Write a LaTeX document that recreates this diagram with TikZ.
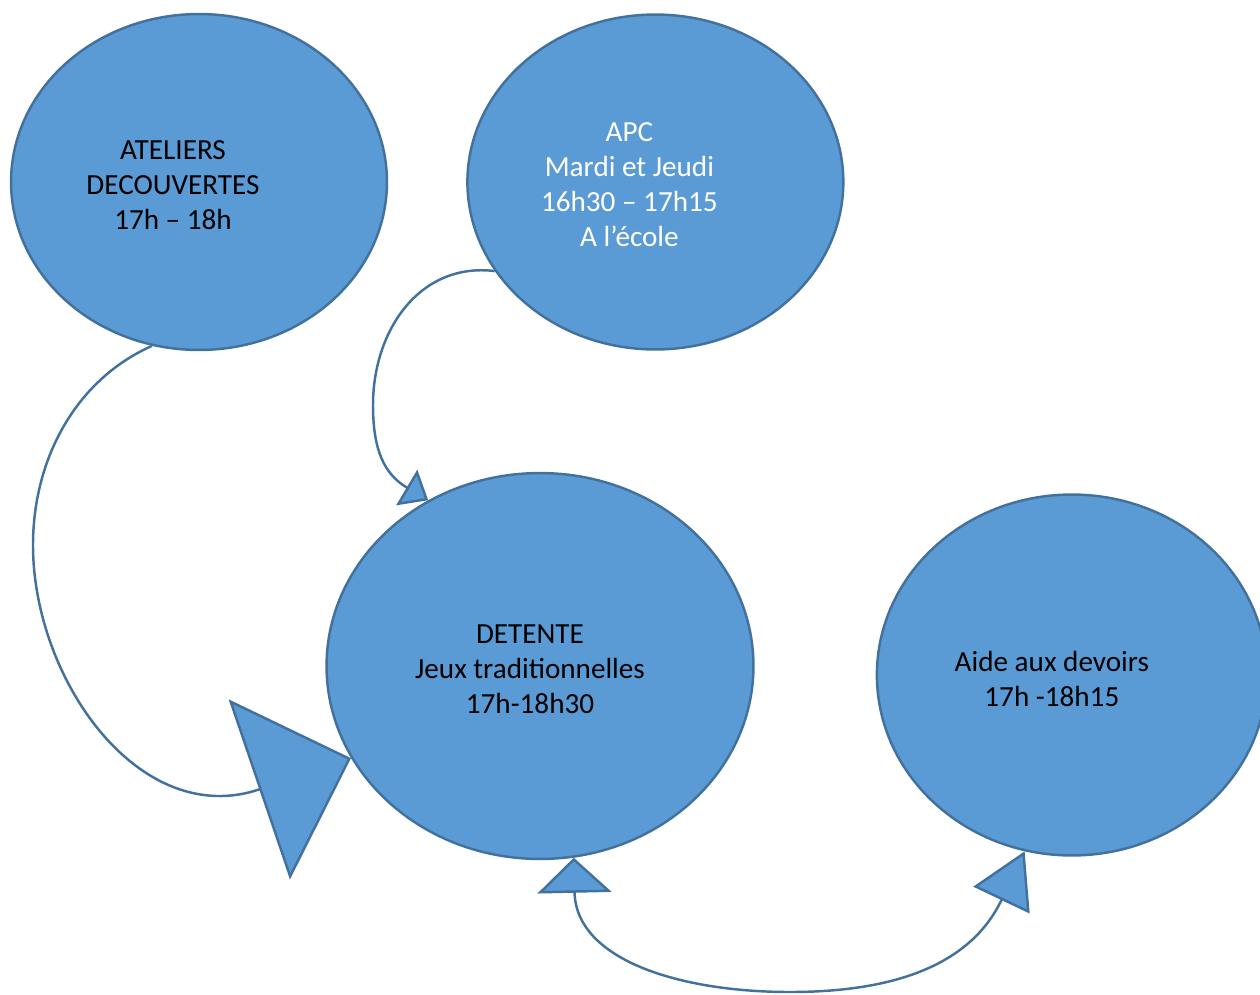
\documentclass[tikz,border=0pt]{standalone}
\usepackage{fontspec}
\setmainfont{Carlito}
\usetikzlibrary{arrows.meta, positioning, calc, shapes.geometric}

\definecolor{bubblefill}{HTML}{5B9BD5}
\definecolor{bubbleline}{HTML}{41719C}

\begin{document}
\begin{tikzpicture}[
    x=0.02cm, y=-0.02cm,
    bubble/.style={ellipse, draw=bubbleline, fill=bubblefill, line width=1.4pt, inner sep=0pt},
    txt/.style={align=center, font=\fontsize{16.6pt}{19.9pt}\selectfont},
    link/.style={draw=bubbleline, line width=1.4pt},
    bigtip/.style={-{Triangle[length=1.94cm, width=3.8cm, fill=bubblefill]}},
    smalltip/.style={-{Triangle[length=0.5cm, width=0.82cm, fill=bubblefill]}},
    bothtips/.style={{Triangle[length=0.7cm, width=1.48cm, fill=bubblefill]}-{Triangle[length=1.08cm, width=1.24cm, fill=bubblefill]}}
]
\useasboundingbox (0,0) rectangle (1260,994);

% Bubbles
\node [bubble, minimum width=7.52cm, minimum height=6.72cm] (atel) at (199,182) {};
\node [bubble, minimum width=7.52cm, minimum height=6.7cm, right=1.56cm of atel] (apc) {};
\node [bubble, minimum width=8.54cm, minimum height=7.72cm] (det) at (540,666) {};
\node [bubble, minimum width=7.8cm, minimum height=7.22cm, right=2.42cm of det, yshift=-0.18cm] (aide) {};

% Texts
\node [txt] (atxt) at ($(atel)+(-26,3)$) {ATELIERS\\DECOUVERTES\\17h – 18h};
\node [txt, text=white] (ptxt) at ($(apc)+(-26,3)$) {APC\\Mardi et Jeudi\\16h30 – 17h15\\A l’école};
\node [txt] (dtxt) at ($(det)+(-10,3)$) {DETENTE\\Jeux traditionnelles\\17h-18h30};
\node [txt] (htxt) at ($(aide)+(-20,4)$) {Aide aux devoirs\\17h -18h15};

% Connections
\draw [link, bigtip] (atel.254) .. controls (75,380) and (33,460) .. (33,545) .. controls (33,680) and (140,830) .. (det.206);
\draw [link, smalltip] (apc.209) .. controls (420,262) and (373,330) .. (373,405) .. controls (373,450) and (384,474) .. (det.124);
\draw [link, bothtips] (det.280) .. controls (576,960) and (680,992) .. (790,992) .. controls (900,992) and (972,962) .. (aide.255);

\end{tikzpicture}
\end{document}
